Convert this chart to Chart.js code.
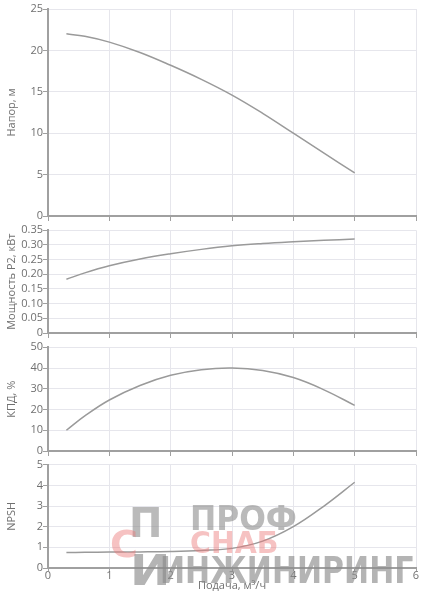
<!DOCTYPE html>
<html>
<head>
<meta charset="utf-8">
<script src="https://cdn.jsdelivr.net/npm/chart.js@4.4.1/dist/chart.umd.min.js"></script>
<style>
  html, body { margin: 0; padding: 0; background: #fff; }
  #wrap { position: relative; width: 426px; height: 600px; overflow: hidden; }
  canvas { position: absolute; left: 0; }
  .wm { position: absolute; font-family: 'DejaVu Sans', sans-serif; font-weight: bold; white-space: nowrap; line-height: 1; pointer-events: none; }
</style>
</head>
<body>
<div id="wrap">
  <canvas id="c1" width="426" height="223" style="top:0px"></canvas>
  <canvas id="c2" width="426" height="118" style="top:222px"></canvas>
  <canvas id="c3" width="426" height="119" style="top:339px"></canvas>
  <canvas id="c4" width="426" height="144" style="top:456px"></canvas>
  <div class="wm" style="left:129px;top:503px;font-size:40px;color:rgba(140,140,140,0.6);">П</div>
  <div class="wm" style="left:110px;top:525px;font-size:38px;color:rgba(235,120,120,0.45);">С</div>
  <div class="wm" style="left:130px;top:550px;font-size:42px;color:rgba(140,140,140,0.65);transform:scaleX(1.15);transform-origin:left top;">И</div>
  <div class="wm" style="left:190px;top:502px;font-size:33px;color:rgba(140,140,140,0.6);transform:scaleX(0.95);transform-origin:left top;">ПРОФ</div>
  <div class="wm" style="left:190px;top:528px;font-size:30px;color:rgba(235,120,120,0.45);transform:scaleX(0.95);transform-origin:left top;">СНАБ</div>
  <div class="wm" style="left:160px;top:552px;font-size:37px;color:rgba(140,140,140,0.65);transform:scaleX(0.81);transform-origin:left top;">ИНЖИНИРИНГ</div>
</div>
<script>
// ---- data ----
const flow  = [0.3, 0.6, 1, 1.5, 2, 2.5, 3, 3.5, 4, 4.5, 5];
const head  = [22.0, 21.7, 21.0, 19.75, 18.2, 16.5, 14.6, 12.4, 10.0, 7.6, 5.2];
const power = [0.183, 0.205, 0.229, 0.252, 0.270, 0.285, 0.297, 0.305, 0.311, 0.316, 0.320];
const eff   = [10.0, 16.9, 24.6, 31.6, 36.5, 39.2, 40.0, 38.8, 35.4, 29.5, 22.0];
const npsh  = [0.75, 0.76, 0.77, 0.78, 0.80, 0.85, 0.95, 1.3, 2.0, 3.0, 4.15];

const xTicks     = [0, 1, 2, 3, 4, 5, 6];
const headTicks  = [0, 5, 10, 15, 20, 25];
const powerTicks = [0, 0.05, 0.1, 0.15, 0.2, 0.25, 0.3, 0.35];
const effTicks   = [0, 10, 20, 30, 40, 50];
const npshTicks  = [0, 1, 2, 3, 4, 5];

const xTitle = 'Подача, м³/ч';
const titles = ['Напор, м', 'Мощность P2, кВт', 'КПД, %', 'NPSH'];

Chart.defaults.font.family = "'Open Sans', sans-serif";
Chart.defaults.font.size = 11;
Chart.defaults.color = '#707070';

const GRID = '#e6e6ec';
const AXIS = '#a0a0a0';

function makeChart(id, values, yTicks, yTitle, padTop, isLast) {
  const pts = flow.map((x, i) => ({ x: x, y: values[i] }));
  return new Chart(document.getElementById(id), {
    type: 'line',
    data: { datasets: [{
      data: pts,
      borderColor: '#9a9a9a',
      borderWidth: 1.5,
      pointRadius: 0,
      fill: false,
      tension: 0.4
    }] },
    options: {
      responsive: false,
      animation: false,
      events: [],
      layout: { padding: { top: padTop, right: 10, left: 0, bottom: 0 } },
      plugins: { legend: { display: false }, tooltip: { enabled: false } },
      scales: {
        x: {
          type: 'linear',
          min: xTicks[0], max: xTicks[xTicks.length - 1],
          afterBuildTicks: s => { s.ticks = xTicks.map(v => ({ value: v })); },
          afterFit: s => { s.height = isLast ? 32 : 7; },
          grid: { color: GRID, tickColor: AXIS, tickLength: isLast ? 3 : 5 },
          border: { color: AXIS, width: 2 },
          ticks: { display: isLast, padding: -2, maxRotation: 0, autoSkip: false },
          title: { display: isLast, text: xTitle, padding: { top: 0, bottom: 7.4 }, font: { size: 11 } }
        },
        y: {
          type: 'linear',
          min: yTicks[0], max: yTicks[yTicks.length - 1],
          afterBuildTicks: s => { s.ticks = yTicks.map(v => ({ value: v })); },
          afterFit: s => { s.width = 48; },
          grid: { color: GRID, tickColor: AXIS, tickLength: 5 },
          border: { color: AXIS, width: 2 },
          ticks: { padding: 0, autoSkip: false },
          title: { display: true, text: yTitle, padding: { top: 5.4, bottom: 0 }, font: { size: 11 } }
        }
      }
    }
  });
}

makeChart('c1', head,  headTicks,  titles[0], 9,   false);
makeChart('c2', power, powerTicks, titles[1], 8.3, false);
makeChart('c3', eff,   effTicks,   titles[2], 8.3, false);
makeChart('c4', npsh,  npshTicks,  titles[3], 8.7, true);
</script>
</body>
</html>
